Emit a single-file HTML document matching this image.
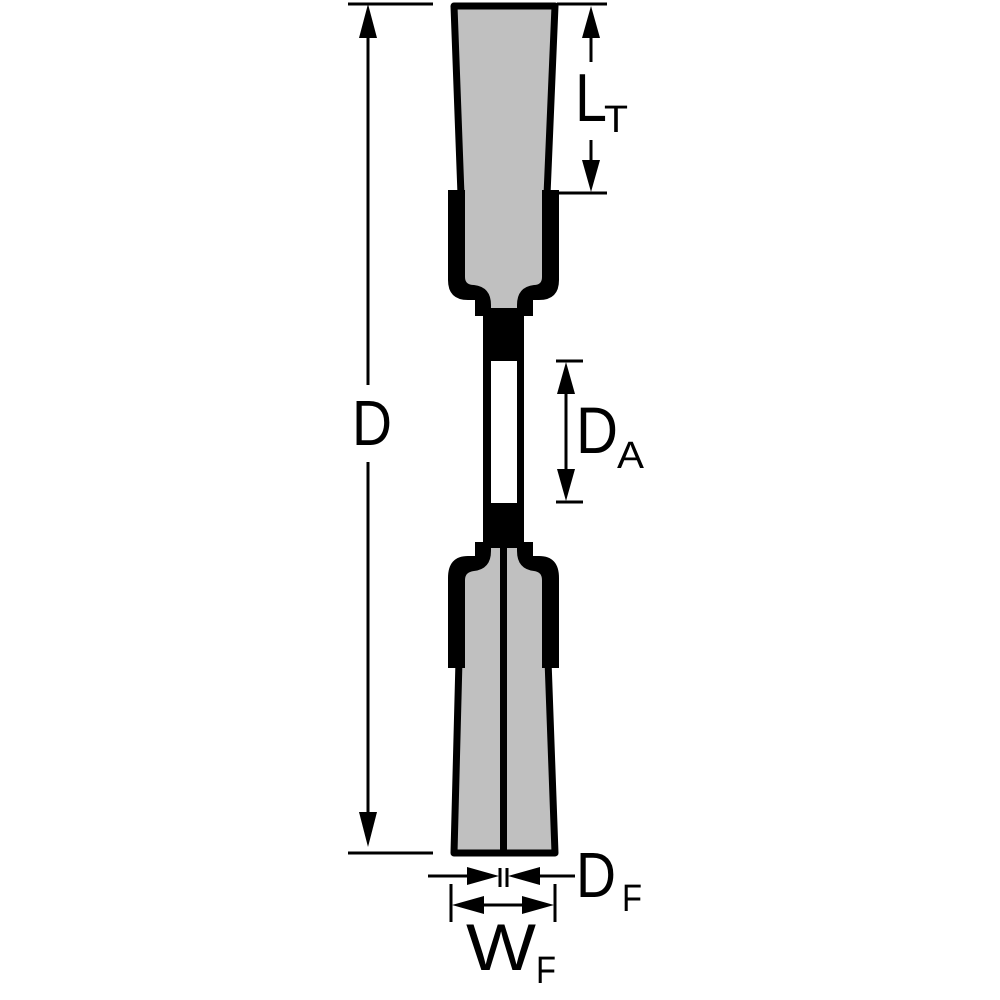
<!DOCTYPE html>
<html><head><meta charset="utf-8"><style>
html,body{margin:0;padding:0;background:#fff;}
svg{display:block;}
text{font-family:"Liberation Sans","DejaVu Sans",sans-serif;fill:#000;}
</style></head><body>
<svg width="1000" height="1000" viewBox="0 0 1000 1000" xmlns="http://www.w3.org/2000/svg">
<path d="M454,6 L555,6 L547,195 L461,195 Z" fill="#c0c0c0" stroke="#000" stroke-width="7" stroke-linejoin="round"/>
<path d="M448,190 L559,190 L559,280 Q559,300 539,300 L533,300 L533,316 L475,316 L475,300 L468,300 Q448,300 448,280 Z" fill="#000"/>
<path d="M465,190 L542,190 L542,277 Q542,285 534,285 Q517,287 517,305 L517,308 L491,308 L491,305 Q491,287 474,285 Q465,285 465,277 Z" fill="#c0c0c0"/>
<rect x="483" y="314" width="41" height="230" fill="#000"/>
<rect x="491" y="361" width="26" height="142" fill="#fff"/>
<path d="M475,542 L533,542 L533,556 L539,556 Q559,556 559,578 L559,668 L448,668 L448,578 Q448,556 468,556 L475,556 Z" fill="#000"/>
<path d="M459,660 L548,660 L555,853 L454,853 Z" fill="#c0c0c0" stroke="#000" stroke-width="7" stroke-linejoin="round"/>
<rect x="448" y="640" width="111" height="28" fill="#000"/>
<path d="M465,668 L465,580 Q465,572 474,571 Q491,569 491,551 L491,548 L517,548 L517,551 Q517,569 534,571 Q542,572 542,580 L542,668 Z" fill="#c0c0c0"/>
<rect x="500" y="546" width="7" height="305" fill="#000"/>

<g stroke="#000" stroke-width="3" fill="none">
<line x1="348" y1="4" x2="433" y2="4"/>
<line x1="348" y1="853" x2="433" y2="853"/>
<line x1="368" y1="20" x2="368" y2="385"/>
<line x1="368" y1="462" x2="368" y2="830"/>
<line x1="557" y1="4" x2="607" y2="4"/>
<line x1="557" y1="193" x2="607" y2="193"/>
<line x1="591" y1="20" x2="591" y2="62"/>
<line x1="591" y1="140" x2="591" y2="178"/>
<line x1="556" y1="361" x2="583" y2="361"/>
<line x1="556" y1="502" x2="583" y2="502"/>
<line x1="566" y1="375" x2="566" y2="488"/>
<line x1="428" y1="876" x2="480" y2="876"/>
<line x1="525" y1="876" x2="575" y2="876"/>
<line x1="500" y1="868" x2="500" y2="887"/>
<line x1="507" y1="868" x2="507" y2="887"/>
<line x1="451" y1="884" x2="451" y2="922"/>
<line x1="555" y1="884" x2="555" y2="922"/>
<line x1="470" y1="905" x2="536" y2="905"/>
</g>
<g fill="#000">
<polygon points="368,4 359,38 377,38"/>
<polygon points="368,847 359,812 377,812"/>
<polygon points="591,6 582,38 600,38"/>
<polygon points="591,192 582,160 600,160"/>
<polygon points="566,362 557,394 575,394"/>
<polygon points="566,501 557,469 575,469"/>
<polygon points="499,876 467,867 467,885"/>
<polygon points="508,876 540,867 540,885"/>
<polygon points="452,905 484,896 484,914"/>
<polygon points="554,905 522,896 522,914"/>
</g>
<text x="352" y="445" font-size="64" textLength="40" lengthAdjust="spacingAndGlyphs">D</text>
<text x="575" y="121" font-size="68" textLength="32" lengthAdjust="spacingAndGlyphs">L</text>
<text x="604" y="132" font-size="38" textLength="24" lengthAdjust="spacingAndGlyphs">T</text>
<text x="576" y="453" font-size="66" textLength="42" lengthAdjust="spacingAndGlyphs">D</text>
<text x="617" y="468" font-size="38" textLength="27" lengthAdjust="spacingAndGlyphs">A</text>
<text x="576" y="897" font-size="64" textLength="40" lengthAdjust="spacingAndGlyphs">D</text>
<text x="622" y="911" font-size="38" textLength="20" lengthAdjust="spacingAndGlyphs">F</text>
<text x="466" y="970" font-size="66" textLength="70" lengthAdjust="spacingAndGlyphs">W</text>
<text x="536" y="983" font-size="38" textLength="20" lengthAdjust="spacingAndGlyphs">F</text>
</svg>
</body></html>
